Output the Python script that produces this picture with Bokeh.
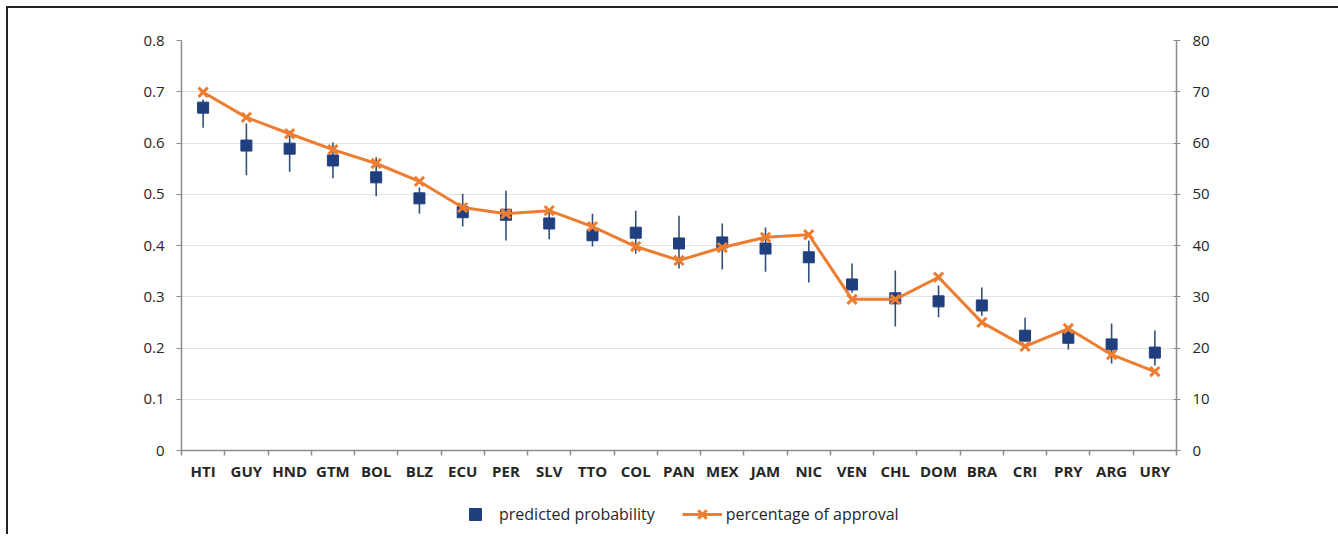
from bokeh.plotting import figure
from bokeh.models import (Range1d, LinearAxis, FixedTicker, Legend, LegendItem,
                          ColumnDataSource)
from bokeh.layouts import column
from bokeh.embed import file_html
from bokeh.resources import INLINE

countries = ["HTI", "GUY", "HND", "GTM", "BOL", "BLZ", "ECU", "PER", "SLV", "TTO",
             "COL", "PAN", "MEX", "JAM", "NIC", "VEN", "CHL", "DOM", "BRA", "CRI",
             "PRY", "ARG", "URY"]
pred_prob = [0.669, 0.595, 0.589, 0.566, 0.533, 0.492, 0.465, 0.460, 0.443, 0.420,
             0.425, 0.404, 0.406, 0.394, 0.377, 0.324, 0.297, 0.291, 0.283, 0.224,
             0.220, 0.207, 0.191]
pred_low = [0.630, 0.537, 0.544, 0.531, 0.496, 0.462, 0.437, 0.410, 0.412, 0.398,
            0.384, 0.355, 0.353, 0.349, 0.328, 0.308, 0.242, 0.260, 0.263, 0.215,
            0.197, 0.170, 0.166]
pred_high = [0.685, 0.638, 0.624, 0.601, 0.572, 0.513, 0.501, 0.507, 0.470, 0.462,
             0.468, 0.458, 0.443, 0.435, 0.410, 0.365, 0.351, 0.322, 0.318, 0.259,
             0.240, 0.248, 0.234]
approval = [69.9, 65.0, 61.8, 58.7, 56.0, 52.5, 47.4, 46.2, 46.8, 43.7,
            39.8, 37.1, 39.6, 41.6, 42.1, 29.5, 29.5, 33.8, 25.0, 20.3,
            23.8, 18.7, 15.4]
left_ticks = [0.0, 0.1, 0.2, 0.3, 0.4, 0.5, 0.6, 0.7, 0.8]
right_ticks = [0, 10, 20, 30, 40, 50, 60, 70, 80]
legend_labels = ["predicted probability", "percentage of approval"]

xs = list(range(len(countries)))
src = ColumnDataSource(dict(x=xs, c=countries, p=pred_prob, lo=pred_low,
                            hi=pred_high, a=approval))

FONT = "Open Sans"
TXT = "#262626"
AXC = "#8C8C8C"
BLUE = "#1F3F7F"
BAR = "#34507A"
ORANGE = "#ED7D31"

p = figure(frame_width=995, frame_height=410, output_backend="svg",
           toolbar_location=None, x_range=Range1d(-0.5, len(countries) - 0.5),
           y_range=Range1d(0, 0.8), min_border_left=173, min_border_top=32,
           min_border_right=160, min_border_bottom=40,
           background_fill_color="white", border_fill_color="white")
p.outline_line_color = None
p.extra_y_ranges = {"pct": Range1d(0, 80)}

# axes
p.xaxis.ticker = FixedTicker(ticks=xs, minor_ticks=[i - 0.5 for i in range(len(countries) + 1)])
p.xaxis.major_label_overrides = {i: c for i, c in enumerate(countries)}
p.xaxis.major_tick_line_color = None
p.xaxis.major_tick_out = 0
p.xaxis.major_tick_in = 0
p.xaxis.minor_tick_line_color = AXC
p.xaxis.minor_tick_out = 5
p.xaxis.minor_tick_in = 0
p.xaxis.minor_tick_line_width = 1.5
p.xaxis.axis_line_color = AXC
p.xaxis.axis_line_width = 1.5
p.xaxis.major_label_text_font = FONT
p.xaxis.major_label_text_font_size = "15px"
p.xaxis.major_label_text_font_style = "bold"
p.xaxis.major_label_text_color = TXT
p.xaxis.major_label_standoff = 5

p.yaxis.ticker = FixedTicker(ticks=left_ticks)
p.yaxis.major_label_overrides = {0: "0"}
p.yaxis.minor_tick_line_color = None
p.yaxis.major_tick_out = 5
p.yaxis.major_tick_in = 0
p.yaxis.major_tick_line_color = AXC
p.yaxis.axis_line_color = AXC
p.yaxis.axis_line_width = 1.5
p.yaxis.major_label_text_font = FONT
p.yaxis.major_label_text_font_size = "15px"
p.yaxis.major_label_text_color = TXT
p.yaxis.major_label_standoff = 12

ry = LinearAxis(y_range_name="pct", ticker=FixedTicker(ticks=right_ticks))
ry.minor_tick_line_color = None
ry.major_tick_out = 4
ry.major_tick_in = 3
ry.major_tick_line_color = AXC
ry.axis_line_color = AXC
ry.axis_line_width = 1.5
ry.major_label_text_font = FONT
ry.major_label_text_font_size = "15px"
ry.major_label_text_color = TXT
ry.major_label_standoff = 12
p.add_layout(ry, "right")

p.xgrid.grid_line_color = None
p.ygrid.ticker = FixedTicker(ticks=left_ticks)
p.ygrid.grid_line_color = "#E3E3E3"
p.ygrid.grid_line_width = 1

# glyphs
p.segment(x0="x", y0="lo", x1="x", y1="hi", source=src, line_color=BAR, line_width=1.6)
p.scatter(x="x", y="p", source=src, marker="square", size=11,
          fill_color=BLUE, line_color=BLUE)
p.line(x="x", y="a", source=src, y_range_name="pct", line_color=ORANGE, line_width=3)
p.scatter(x="x", y="a", source=src, y_range_name="pct", marker="x", size=13,
          line_color=ORANGE, line_width=3)

# legend strip below the chart (its glyphs reuse the data but lie out of view)
lp = figure(width=1330, height=44, output_backend="svg", toolbar_location=None,
            x_range=Range1d(-200, -199), y_range=Range1d(0, 1), min_border=0,
            background_fill_color="white", border_fill_color="white")
lp.axis.visible = False
lp.grid.visible = False
lp.outline_line_color = None
lsq = lp.scatter(x="x", y="p", source=src, marker="square", size=11,
                 fill_color=BLUE, line_color=BLUE)
lln = lp.line(x="x", y="p", source=src, line_color=ORANGE, line_width=3)
lxm = lp.scatter(x="x", y="p", source=src, marker="x", size=13,
                 line_color=ORANGE, line_width=3)
legend = Legend(items=[LegendItem(label=legend_labels[0], renderers=[lsq]),
                       LegendItem(label=legend_labels[1], renderers=[lln, lxm])],
                orientation="horizontal", location=(274, 5),
                glyph_width=40, glyph_height=30, label_standoff=4, spacing=27,
                padding=4, margin=0, border_line_color=None, background_fill_alpha=0,
                label_text_font=FONT, label_text_font_size="16px",
                label_text_color=TXT)
lp.add_layout(legend, "center")

lay = column(p, lp, spacing=0,
             styles={"border-top": "2px solid #222", "border-left": "2px solid #222",
                     "margin-left": "6px", "margin-top": "6px"})

open("out.html", "w").write(file_html(lay, INLINE))
